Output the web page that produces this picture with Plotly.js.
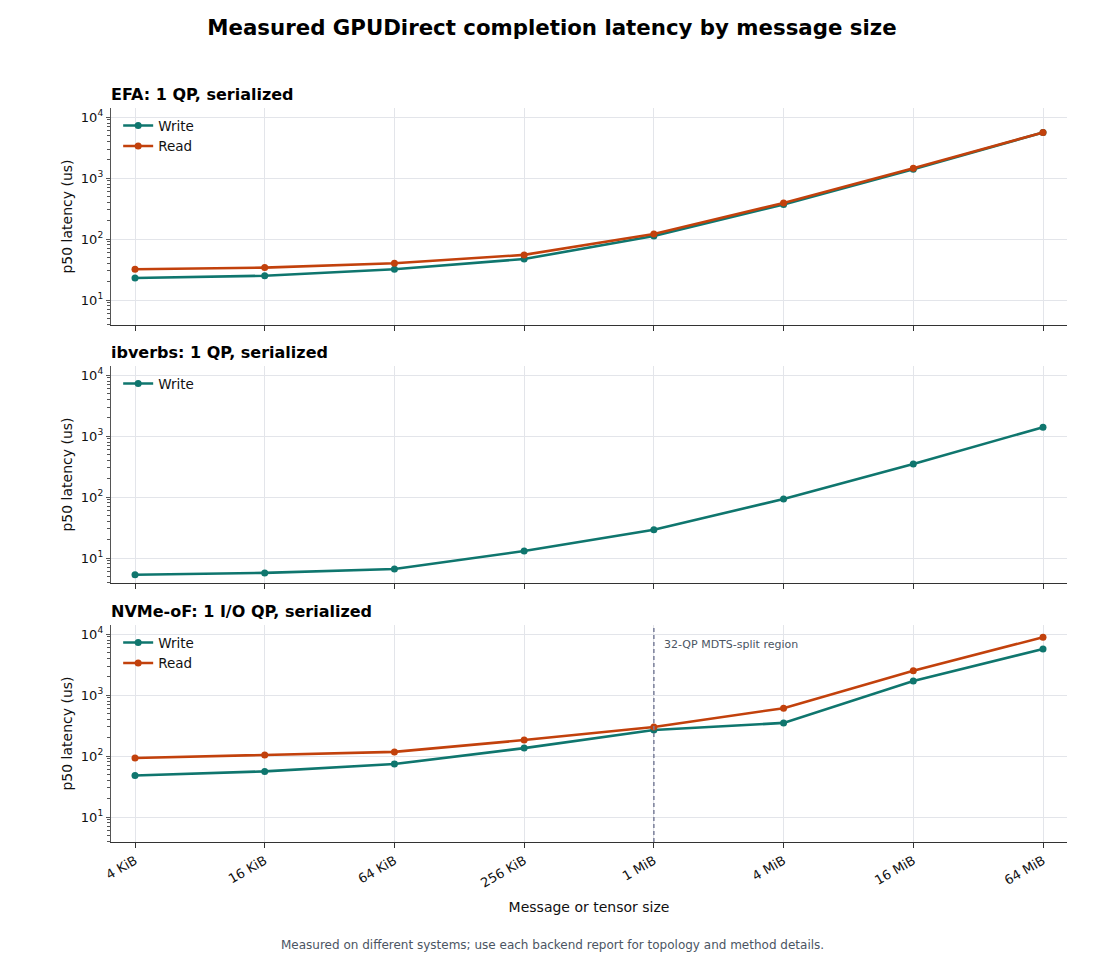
<!DOCTYPE html>
<html><head><meta charset="utf-8">
<script src="https://cdn.plot.ly/plotly-3.0.1.min.js"></script>
<style>body{margin:0;background:#fff}#chart{width:1104px;height:960px}</style>
</head><body><div id="chart"></div>
<script>
const sizes = ["4 KiB","16 KiB","64 KiB","256 KiB","1 MiB","4 MiB","16 MiB","64 MiB"];
const efaWrite = [23, 25, 32, 47, 112, 370, 1400, 5600];
const efaRead = [32, 34, 40, 55, 121, 390, 1450, 5600];
const ibvWrite = [5.3, 5.7, 6.6, 13, 29, 93, 350, 1400];
const nvmeWrite = [48, 56, 74, 135, 267, 350, 1700, 5700];
const nvmeRead = [93, 104, 117, 183, 300, 610, 2500, 8900];
const panelTitles = ["EFA: 1 QP, serialized","ibverbs: 1 QP, serialized","NVMe-oF: 1 I/O QP, serialized"];
const yTickVals = [10, 100, 1000, 10000];
const yTickText = ["10<sup>1</sup>","10<sup>2</sup>","10<sup>3</sup>","10<sup>4</sup>"];
const minorMantissas = [2,3,4,5,6,7,8,9];
const minorDecades = [1,10,100,1000,10000];

const WRITE = "#0f766e", READ = "#c2410c";
const F = "DejaVu Sans, sans-serif";
const minorVals = [];
minorDecades.forEach(d => minorMantissas.forEach(m => minorVals.push(m*d)));
function tr(y, name, color, ax, leg, show){
  return {x: sizes, y: y, name: name, type:"scatter", mode:"lines+markers",
    line:{color:color, width:2.6}, marker:{color:color, size:7},
    xaxis: ax[0], yaxis: ax[1], legend: leg, showlegend: show};
}
const data = [
  tr(efaWrite,"Write",WRITE,["x","y"],"legend",true),
  tr(efaRead,"Read",READ,["x","y"],"legend",true),
  tr(ibvWrite,"Write",WRITE,["x2","y2"],"legend2",true),
  tr(nvmeWrite,"Write",WRITE,["x3","y3"],"legend3",true),
  tr(nvmeRead,"Read",READ,["x3","y3"],"legend3",true)
];
const H = 734;
const doms = [[(842-325)/H, 1], [(842-583)/H, (842-366)/H], [0, (842-625)/H]];
function xax(anchor, showLabels){
  return {type:"category", range:[-0.185, 7.185], anchor: anchor,
    showgrid:true, gridcolor:"#e3e5ea", gridwidth:1,
    showline:true, linecolor:"#333", linewidth:1.2,
    ticks:"outside", ticklen:5, tickcolor:"#333",
    showticklabels: showLabels, tickangle:-30,
    tickfont:{family:F, size:13, color:"#111"}, zeroline:false};
}
function yax(anchor, dom){
  return {type:"log", range:[0.59, 4.15], domain: dom, anchor: anchor,
    tickmode:"array", tickvals: yTickVals, ticktext: yTickText,
    showgrid:true, gridcolor:"#e3e5ea", gridwidth:1,
    showline:true, linecolor:"#555", linewidth:1.2,
    ticks:"outside", ticklen:4, tickcolor:"#555",
    minor:{tickmode:"array", tickvals: minorVals, ticks:"outside", ticklen:2.5, tickcolor:"#555", showgrid:false},
    tickfont:{family:F, size:13, color:"#111"},
    title:{text:"p50 latency (us)", font:{family:F, size:14, color:"#111"}, standoff:5},
    zeroline:false};
}
const legBase = {bgcolor:"rgba(255,255,255,0)", borderwidth:0, font:{family:F, size:13.5, color:"#111"},
  xanchor:"left", yanchor:"top", x:0.0075, tracegroupgap:0, itemwidth:30};
const layout = {
  width:1104, height:960,
  margin:{l:111, r:37, t:108, b:118},
  paper_bgcolor:"#fff", plot_bgcolor:"#fff",
  font:{family:F, color:"#111"},
  title:{text:"<b>Measured GPUDirect completion latency by message size</b>", x:0.5, xanchor:"center", y:0.971, yanchor:"middle", font:{family:F, size:21.3, color:"#000"}},
  xaxis: xax("y", false), yaxis: yax("x", doms[0]),
  xaxis2: Object.assign(xax("y2", false), {matches:"x"}), yaxis2: yax("x2", doms[1]),
  xaxis3: Object.assign(xax("y3", true), {matches:"x", title:{text:"Message or tensor size", font:{family:F, size:14, color:"#111"}, standoff:12}}), yaxis3: yax("x3", doms[2]),
  legend: Object.assign({}, legBase, {y: doms[0][1] - 0.003}),
  legend2: Object.assign({}, legBase, {y: doms[1][1] - 0.003}),
  legend3: Object.assign({}, legBase, {y: doms[2][1] - 0.003}),
  shapes:[{type:"line", xref:"x3", yref:"y3 domain", x0:"1 MiB", x1:"1 MiB", y0:0, y1:1,
    line:{color:"#7a7f9a", width:1.5, dash:"4px,3px"}}],
  annotations: [
    ...panelTitles.map((t,i)=>({text:"<b>"+t+"</b>", xref:"paper", yref:"paper", x:0, y:doms[i][1], xanchor:"left", yanchor:"bottom", xshift:-2, yshift:2, showarrow:false, font:{family:F, size:16, color:"#000"}})),
    {text:"32-QP MDTS-split region", xref:"x3", yref:"y3 domain", x:"1 MiB", y:0.91, xanchor:"left", yanchor:"middle", xshift:8, showarrow:false, font:{family:F, size:11, color:"#4b5563"}},
    {text:"Measured on different systems; use each backend report for topology and method details.", xref:"paper", yref:"paper", x:(552-111)/956, y:(842-945)/H, xanchor:"center", yanchor:"middle", showarrow:false, font:{family:F, size:12, color:"#4b5563"}}
  ]
};
Plotly.newPlot("chart", data, layout, {displayModeBar:false, staticPlot:true});
</script></body></html>
